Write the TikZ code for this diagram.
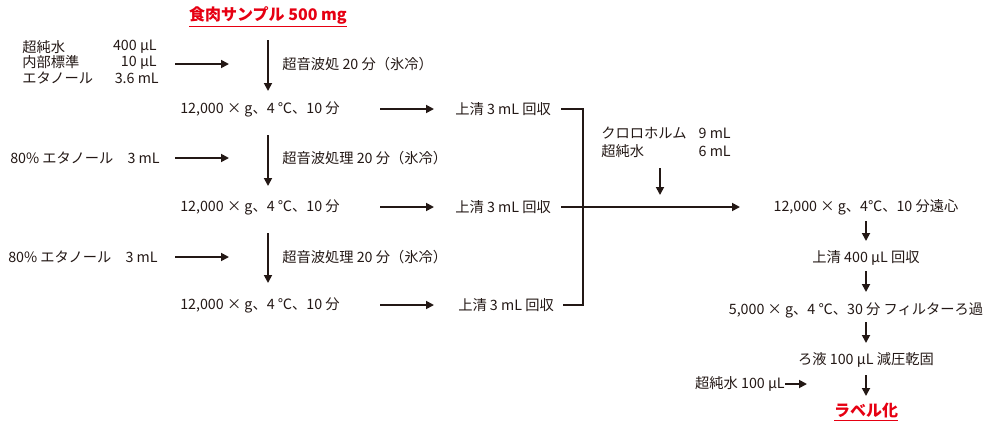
\documentclass[tikz,border=0pt]{standalone}
\usepackage{fontspec}
\setmainfont{Noto Sans CJK JP}
\usetikzlibrary{arrows.meta}
\definecolor{txt}{HTML}{231815}
\definecolor{redt}{HTML}{E60012}
\tikzset{
  lbl/.style={inner sep=0pt, font=\fontsize{10.7}{12}\selectfont, text=txt},
  ttl/.style={inner sep=0pt, font=\fontsize{12}{14}\selectfont\bfseries, text=redt},
  arr/.style={draw=txt, line width=1.3pt, -{Triangle[length=6pt,width=6pt]}},
  ln/.style={draw=txt, line width=1.3pt},
}
\newcommand{\ulred}[1]{\underline{#1}}
\begin{document}
\begin{tikzpicture}[x=0.75pt,y=-0.75pt]
\useasboundingbox (0,0) rectangle (1000,425);
% title
\node[ttl] (title) at (268,17) {\ulred{食肉サンプル 500 mg}};
% left block
\node[lbl,anchor=west] (a1) at (22,47) {超純水};
\node[lbl,anchor=west] (a2) at (22,62.5) {内部標準};
\node[lbl,anchor=west] (a3) at (22,78) {エタノール};
\node[lbl,anchor=east] (v1) at (157,47) {400 µL};
\node[lbl,anchor=east] (v2) at (157,62.5) {10 µL};
\node[lbl,anchor=east] (v3) at (159,78) {3.6 mL};
\coordinate (l1s) at (175,64); \coordinate (l1e) at (229,64);
\draw[arr] (l1s) -- (l1e);
\coordinate (d1s) at (268,40); \coordinate (d1e) at (268,91);
\draw[arr] (d1s) -- (d1e);
\node[lbl,anchor=west] (s1) at (282,64) {超音波処 20 分（氷冷）};
% row 1
\node[lbl,anchor=west] (c1) at (180,109) {12,000 × g、4 ℃、10 分};
\coordinate (r1s) at (380,109); \coordinate (r1e) at (434,109);
\draw[arr] (r1s) -- (r1e);
\node[lbl,anchor=west] (u1) at (455,109) {上清 3 mL 回収};
% row 2
\node[lbl,anchor=west] (e2) at (10,158) {80\% エタノール\hspace{1em}3 mL};
\coordinate (l2s) at (175,158); \coordinate (l2e) at (229,158);
\draw[arr] (l2s) -- (l2e);
\coordinate (d2s) at (268,135); \coordinate (d2e) at (268,186);
\draw[arr] (d2s) -- (d2e);
\node[lbl,anchor=west] (s2) at (282,158) {超音波処理 20 分（氷冷）};
\node[lbl,anchor=west] (c2) at (180,207) {12,000 × g、4 ℃、10 分};
\coordinate (r2s) at (380,207); \coordinate (r2e) at (434,207);
\draw[arr] (r2s) -- (r2e);
\node[lbl,anchor=west] (u2) at (455,207) {上清 3 mL 回収};
% row 3
\node[lbl,anchor=west] (e3) at (8,257) {80\% エタノール\hspace{1em}3 mL};
\coordinate (l3s) at (175,257); \coordinate (l3e) at (229,257);
\draw[arr] (l3s) -- (l3e);
\coordinate (d3s) at (268,233); \coordinate (d3e) at (268,283);
\draw[arr] (d3s) -- (d3e);
\node[lbl,anchor=west] (s3) at (282,257) {超音波処理 20 分（氷冷）};
\node[lbl,anchor=west] (c3) at (180,305) {12,000 × g、4 ℃、10 分};
\coordinate (r3s) at (380,305); \coordinate (r3e) at (434,305);
\draw[arr] (r3s) -- (r3e);
\node[lbl,anchor=west] (u3) at (458,305) {上清 3 mL 回収};
% bracket
\coordinate (b1) at (583,109); \coordinate (b3) at (583,305);
\coordinate (m2) at (740,207);
\coordinate (t1) at (561,109); \coordinate (t2) at (561,207); \coordinate (t3) at (563,305);
\draw[ln] (t1) -- (b1) -- (b3) -- (t3);
\draw[arr] (t2) -- (m2);
% chloroform
\node[lbl,anchor=west] (k1) at (601,133) {クロロホルム};
\node[lbl,anchor=west] (k2) at (601,151) {超純水};
\node[lbl,anchor=east] (kv1) at (731,133) {9 mL};
\node[lbl,anchor=east] (kv2) at (731,151) {6 mL};
\coordinate (kd1) at (660,168); \coordinate (kd2) at (660,195);
\draw[arr] (kd1) -- (kd2);
% right column
\node[lbl] (f1) at (866,207) {12,000 × g、4℃、10 分遠心};
\node[lbl] (f2) at (866,258) {上清 400 µL 回収};
\node[lbl] (f3) at (856,310) {5,000 × g、4 ℃、30 分 フィルターろ過};
\node[lbl] (f4) at (866,360) {ろ液 100 µL 減圧乾固};
\node[ttl] (f5) at (866,412) {\ulred{ラベル化}};
\coordinate (g1s) at (866,221); \coordinate (g1e) at (866,241);
\coordinate (g2s) at (866,271); \coordinate (g2e) at (866,292);
\coordinate (g3s) at (866,322); \coordinate (g3e) at (866,343);
\coordinate (g4s) at (866,375); \coordinate (g4e) at (866,396);
\draw[arr] (g1s) -- (g1e);
\draw[arr] (g2s) -- (g2e);
\draw[arr] (g3s) -- (g3e);
\draw[arr] (g4s) -- (g4e);
\node[lbl,anchor=east] (w1) at (785,384) {超純水 100 µL};
\coordinate (wa) at (807,384);
\draw[arr] (w1.east) -- (wa);
\end{tikzpicture}
\end{document}
